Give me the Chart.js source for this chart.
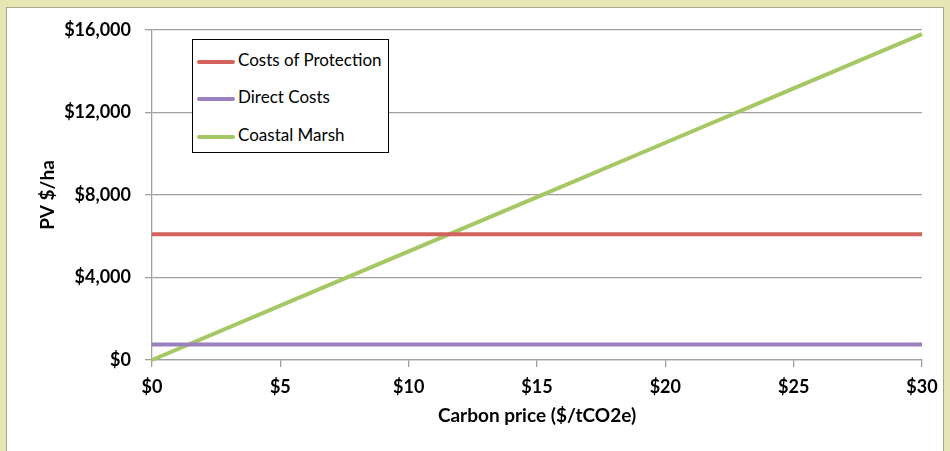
<!DOCTYPE html>
<html>
<head>
<meta charset="utf-8">
<script src="https://cdn.jsdelivr.net/npm/chart.js@4"></script>
<style>
  html, body { margin: 0; padding: 0; }
  body { width: 950px; height: 451px; background: #e6e6b4; position: relative; overflow: hidden; font-family: Lato, sans-serif; }
  #panel { position: absolute; left: 6px; top: 7px; width: 936px; height: 460px; background: #fff; border: 1px solid #a8a890; }
  #wrap { position: absolute; left: 0; top: 0; width: 950px; height: 451px; }
  #legend { position: absolute; left: 192px; top: 39px; width: 195px; height: 112px; border: 1.5px solid #000; background: #fff; }
  .item { position: absolute; left: 4px; height: 20px; font-size: 17px; color: #000; line-height: 20px; white-space: nowrap; }
  .item span.swatch { display: inline-block; width: 38px; height: 4px; border-radius: 2px; vertical-align: middle; margin-right: 3px; }
</style>
</head>
<body>
<div id="panel"></div>
<div id="wrap"><canvas id="chart" width="950" height="451"></canvas></div>
<div id="legend"></div>
<script>
const carbonPrice = [0, 5, 10, 15, 20, 25, 30];          // $/tCO2e
const protectionCost = [6100, 6100, 6100, 6100, 6100, 6100, 6100];
const directCost = [750, 750, 750, 750, 750, 750, 750];
const coastalMarsh = [0, 2633, 5267, 7900, 10533, 13167, 15800];

const seriesNames = ["Costs of Protection", "Direct Costs", "Coastal Marsh"];
const seriesColors = ["#d2645d", "#9a80be", "#a5c864"];
const seriesValues = [protectionCost, directCost, coastalMarsh];

const yTicks = [0, 4000, 8000, 12000, 16000];
const xTicks = [0, 5, 10, 15, 20, 25, 30];

const datasets = seriesNames.map((name, i) => ({
  label: name,
  data: carbonPrice.map((x, j) => ({ x: x, y: seriesValues[i][j] })),
  borderColor: seriesColors[i],
  backgroundColor: seriesColors[i],
  borderWidth: 4,
  pointRadius: 0,
  tension: 0,
  clip: false
}));

// legend box drawn as html over the plot
const legend = document.getElementById("legend");
const rowTops = [10, 47, 85];
seriesNames.forEach((name, i) => {
  const d = document.createElement("div");
  d.className = "item";
  d.style.top = rowTops[i] + "px";
  d.innerHTML = '<span class="swatch" style="background:' + seriesColors[i] + '"></span>' + name;
  legend.appendChild(d);
});

const tickFont = { family: "Lato", size: 18, weight: "bold" };
const titleFont = { family: "Lato", size: 19, weight: "bold" };

new Chart(document.getElementById("chart"), {
  type: "line",
  data: { datasets },
  options: {
    responsive: false,
    animation: false,
    layout: { padding: { top: 30, right: 28, left: 0, bottom: 0 } },
    plugins: { legend: { display: false }, tooltip: { enabled: false } },
    scales: {
      x: {
        type: "linear",
        min: 0, max: 30,
        afterBuildTicks: s => { s.ticks = xTicks.map(v => ({ value: v })); },
        afterFit: s => { s.height = 91; },
        ticks: { color: "#000", font: tickFont, padding: 9, maxRotation: 0,
                 callback: v => "$" + v },
        grid: { drawOnChartArea: false, color: "#a0a0a0", tickLength: 7, lineWidth: 1.3 },
        border: { color: "#a0a0a0", width: 1.3 },
        title: { display: true, text: "Carbon price ($/tCO2e)", color: "#000", font: titleFont,
                 padding: { top: 0, bottom: 24 } }
      },
      y: {
        min: 0, max: 16000,
        afterBuildTicks: s => { s.ticks = yTicks.map(v => ({ value: v })); },
        afterFit: s => { s.width = 152; },
        ticks: { color: "#000", font: tickFont, padding: 14,
                 callback: v => "$" + v.toLocaleString("en-US") },
        grid: { color: "#a0a0a0", tickLength: 7, lineWidth: 1.3 },
        border: { color: "#a0a0a0", width: 1.3 },
        title: { display: true, text: "PV $/ha", color: "#000", font: titleFont,
                 padding: { top: 36, bottom: 0 } }
      }
    }
  }
});
</script>
</body>
</html>
